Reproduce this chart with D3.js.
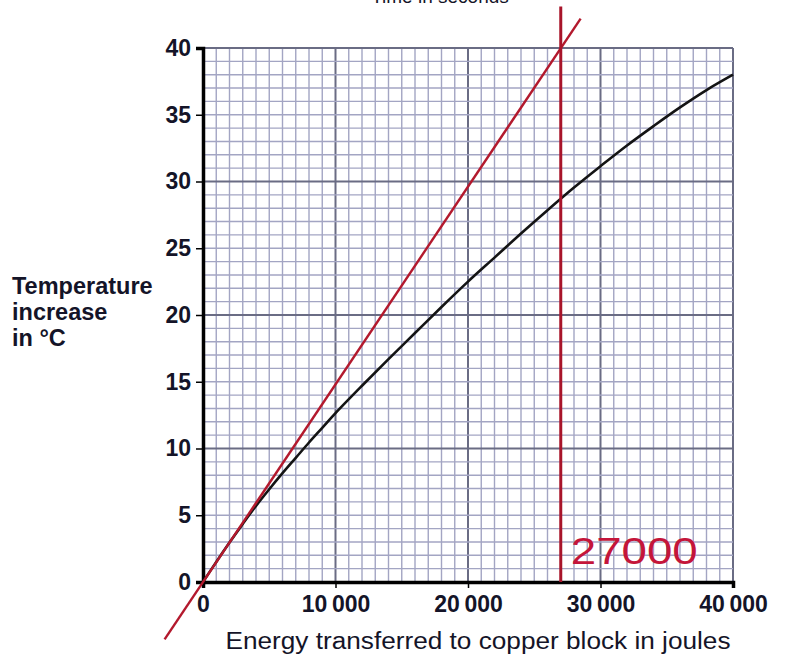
<!DOCTYPE html>
<html>
<head>
<meta charset="utf-8">
<script src="https://cdn.jsdelivr.net/npm/d3@7"></script>
<style>
  html, body { margin: 0; padding: 0; background: #ffffff; }
  svg { display: block; }
  text { font-family: "Liberation Sans", Arial, sans-serif; }
</style>
</head>
<body>
<svg id="chart" width="785" height="655"></svg>
<script>
// Heating curve of the copper block
const energy      = [0, 1000, 2000, 3000, 4000, 5000, 6000, 7000, 8000, 9000, 10000,
                     12000, 14000, 16000, 18000, 20000, 22000, 24000, 26000, 28000,
                     30000, 32000, 34000, 36000, 38000, 40000];
const temperature = [0, 1.5, 2.95, 4.35, 5.7, 6.95, 8.15, 9.3, 10.45, 11.55, 12.65,
                     14.7, 16.7, 18.65, 20.6, 22.5, 24.3, 26.1, 27.85, 29.55,
                     31.15, 32.7, 34.15, 35.55, 36.85, 38.0];

// Tangent drawn at the origin (hand-drawn construction)
const tangentEnergy = [-2900, 28500];
const tangentTemp   = [-4.3, 42.2];

// Read-off line at 27000 J
const readEnergy = 27000;
const readTemp   = [0, 43.1];
const readLabel  = "27000";

// Axis ticks
const xTicks = [0, 10000, 20000, 30000, 40000];
const xTickLabels = ["0", "10\u2009000", "20\u2009000", "30\u2009000", "40\u2009000"];
const yTicks = [0, 5, 10, 15, 20, 25, 30, 35, 40];

const svg = d3.select("#chart");

const x = d3.scaleLinear().domain([0, 40000]).range([203, 733]);
const y = d3.scaleLinear().domain([0, 40]).range([582, 48]);

// Graph-paper grid
const grid = svg.append("g");
d3.range(0, 40001, 1000).forEach(v => {
  const major = v % 10000 === 0;
  grid.append("line")
    .attr("x1", x(v)).attr("x2", x(v))
    .attr("y1", y(0)).attr("y2", y(40))
    .attr("stroke", major ? "#6a6c84" : "#a3a5c3")
    .attr("stroke-width", major ? 2 : 1.4);
});
d3.range(0, 41, 1).forEach(v => {
  const major = v % 10 === 0;
  grid.append("line")
    .attr("x1", x(0)).attr("x2", x(40000))
    .attr("y1", y(v)).attr("y2", y(v))
    .attr("stroke", major ? "#6a6c84" : "#a3a5c3")
    .attr("stroke-width", major ? 2 : 1.4);
});

const labelColor = "#141428";

// Axes
const yAxis = d3.axisLeft(y).tickValues(yTicks).tickSize(7).tickPadding(5);
const gy = svg.append("g").attr("transform", `translate(${x(0)},0)`).call(yAxis);
gy.select(".domain").attr("stroke", "#000").attr("stroke-width", 3.5);
gy.selectAll(".tick line").attr("stroke", "#000").attr("stroke-width", 1.5);
gy.selectAll(".tick text")
  .attr("font-size", 23).attr("font-weight", "bold").attr("fill", labelColor)
  .attr("font-family", "Liberation Sans, Arial, sans-serif");

const xAxis = d3.axisBottom(x).tickValues(xTicks).tickSize(6).tickPadding(8)
  .tickFormat((d, i) => xTickLabels[i]);
const gx = svg.append("g").attr("transform", `translate(0,${y(0)})`).call(xAxis);
gx.select(".domain").attr("stroke", "#000").attr("stroke-width", 3.5);
gx.selectAll(".tick line").attr("stroke", "#000").attr("stroke-width", 1.5);
gx.selectAll(".tick text")
  .attr("font-size", 23).attr("font-weight", "bold").attr("fill", labelColor)
  .attr("font-family", "Liberation Sans, Arial, sans-serif");

// Heating curve
const line = d3.line()
  .x((d, i) => x(energy[i]))
  .y(d => y(d))
  .curve(d3.curveCatmullRom.alpha(0.5));
svg.append("path")
  .datum(temperature)
  .attr("d", line)
  .attr("fill", "none")
  .attr("stroke", "#141414")
  .attr("stroke-width", 2.6);

// Tangent line
svg.append("line")
  .attr("x1", x(tangentEnergy[0])).attr("y1", y(tangentTemp[0]))
  .attr("x2", x(tangentEnergy[1])).attr("y2", y(tangentTemp[1]))
  .attr("stroke", "#b3192d").attr("stroke-width", 2.4);

// Vertical read-off line
svg.append("line")
  .attr("x1", x(readEnergy)).attr("x2", x(readEnergy))
  .attr("y1", y(readTemp[0])).attr("y2", y(readTemp[1]))
  .attr("stroke", "#a8142a").attr("stroke-width", 3);

// Handwritten value
svg.append("text")
  .attr("x", x(readEnergy) + 10).attr("y", 564)
  .attr("font-size", 36)
  .attr("fill", "#c4153a")
  .attr("textLength", 127)
  .attr("lengthAdjust", "spacingAndGlyphs")
  .text(readLabel);

// Axis titles
svg.append("text")
  .attr("x", 478).attr("y", 649)
  .attr("text-anchor", "middle")
  .attr("font-size", 23)
  .attr("fill", labelColor)
  .attr("textLength", 505)
  .attr("lengthAdjust", "spacingAndGlyphs")
  .text("Energy transferred to copper block in joules");

const yTitle = svg.append("text")
  .attr("font-size", 23.5).attr("font-weight", "bold").attr("fill", labelColor);
["Temperature", "increase", "in \u00B0C"].forEach((t, i) => {
  yTitle.append("tspan").attr("x", 12).attr("y", 294 + i * 26).text(t);
});

// Top axis title, running off the top edge of the page
svg.append("text")
  .attr("x", 440).attr("y", 3)
  .attr("text-anchor", "middle")
  .attr("font-size", 19)
  .attr("fill", labelColor)
  .text("Time in seconds");
</script>
</body>
</html>
